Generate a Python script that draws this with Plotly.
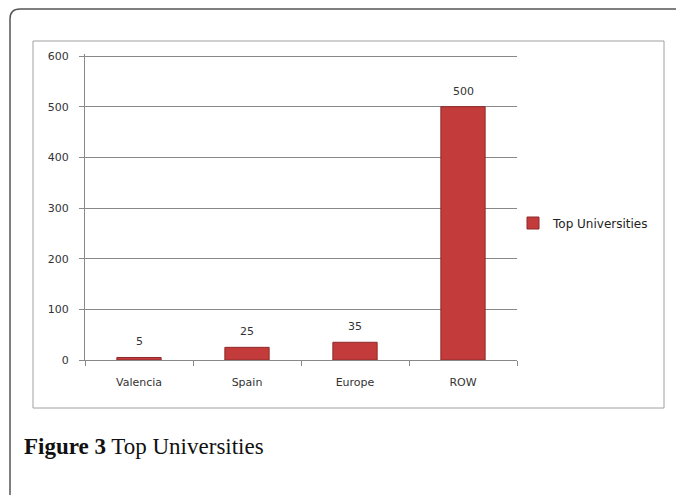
import plotly.graph_objects as go

categories = ["Valencia", "Spain", "Europe", "ROW"]
values = [5, 25, 35, 500]
series_name = "Top Universities"
y_ticks = [0, 100, 200, 300, 400, 500, 600]

W, H = 676, 495
L, R, T, B = 85, 517, 54, 360  # plot area in pixels
Y_MAX = 604

def px(x):
    return (x - L) / (R - L)

def py(y):
    return (B - y) / (B - T)

fig = go.Figure()
fig.add_trace(go.Bar(
    x=categories, y=values, name=series_name,
    marker=dict(color="#c43b3b", line=dict(color="#8e2a2a", width=1)),
    showlegend=True,
))

shapes = []
# outer frame (top + left with rounded corner)
r = 10
shapes.append(dict(
    type="path", xref="paper", yref="paper",
    path=(f"M {px(10)},{py(500)} L {px(10)},{py(9 + r)} "
          f"Q {px(10)},{py(9)} {px(10 + r)},{py(9)} L {px(680)},{py(9)}"),
    line=dict(color="#555555", width=1.5),
))
# chart box
shapes.append(dict(
    type="rect", xref="paper", yref="paper",
    x0=px(33), x1=px(664), y0=py(408), y1=py(41),
    line=dict(color="#a0a0a0", width=1), layer="below",
))

annotations = [dict(
    x=c, y=v, xref="x", yref="y", text=str(v), showarrow=False,
    yanchor="bottom", yshift=7,
    font=dict(family="DejaVu Sans", size=11, color="#333333"),
) for c, v in zip(categories, values)]

annotations.append(dict(
    xref="paper", yref="paper", x=px(22), y=py(447),
    xanchor="left", yanchor="middle", showarrow=False,
    text="<b>Figure 3</b> Top Universities",
    font=dict(family="Liberation Serif", size=23, color="#111111"),
))

fig.update_layout(
    width=W, height=H,
    margin=dict(l=L, r=W - R, t=T, b=H - B, autoexpand=False),
    paper_bgcolor="white", plot_bgcolor="white",
    bargap=0.59,
    shapes=shapes,
    font=dict(family="DejaVu Sans", size=11, color="#333333"),
    legend=dict(x=px(513), y=py(223), xanchor="left", yanchor="middle",
                font=dict(family="DejaVu Sans", size=12, color="#222222"),
                itemwidth=30, bgcolor="rgba(0,0,0,0)"),
    xaxis=dict(
        showline=True, linecolor="#888888", linewidth=1,
        ticks="outside", tickson="boundaries", ticklen=5, tickcolor="#888888",
        tickfont=dict(family="DejaVu Sans", size=11, color="#333333"),
        ticklabelstandoff=12, showgrid=False,
    ),
    yaxis=dict(
        range=[0, Y_MAX], tickvals=y_ticks,
        showline=True, linecolor="#888888", linewidth=1,
        ticks="outside", ticklen=5, tickcolor="#888888",
        showgrid=True, gridcolor="#888888", gridwidth=1,
        zeroline=False,
        tickfont=dict(family="DejaVu Sans", size=11, color="#333333"),
        ticklabelstandoff=8,
    ),
    annotations=annotations,
)

fig.write_html("out.html")
